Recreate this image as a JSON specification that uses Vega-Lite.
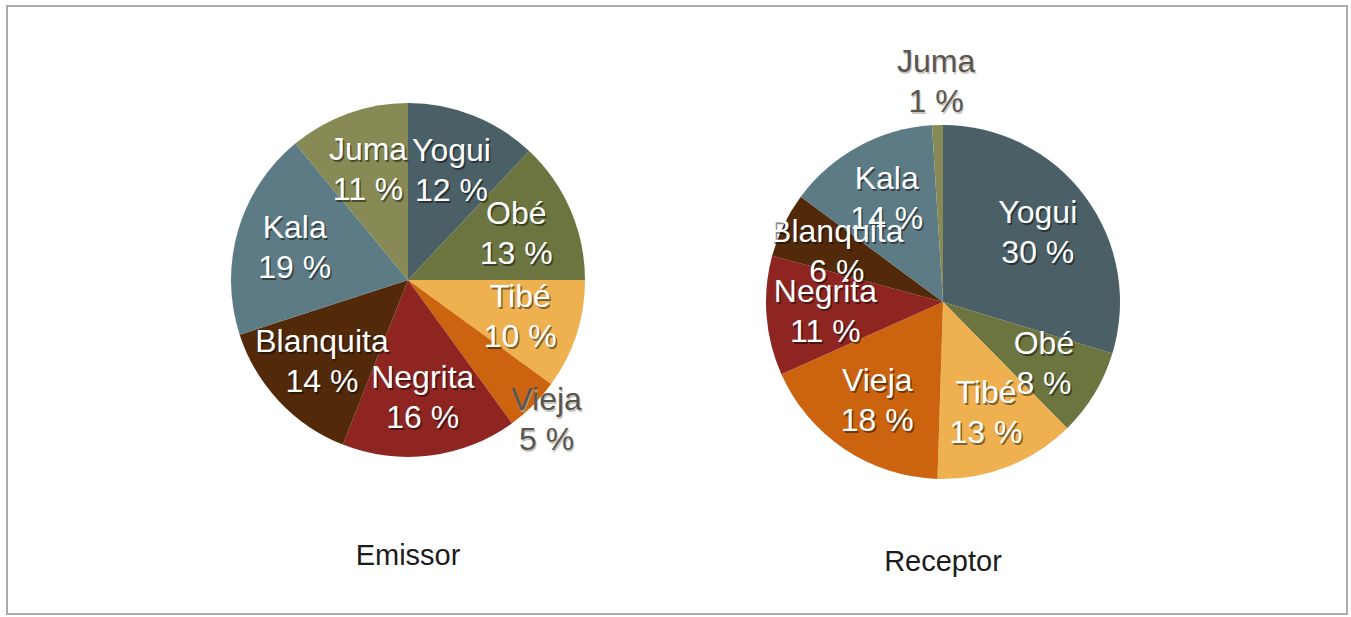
{
  "$schema": "https://vega.github.io/schema/vega-lite/v6.json",
  "width": 1351,
  "height": 617,
  "autosize": {"type": "fit", "contains": "padding"},
  "padding": {"left": 7, "top": 6, "right": 4, "bottom": 3},
  "background": "#ffffff",
  "config": {"view": {"stroke": "#ababab", "strokeWidth": 2}},
  "data": {"values": [
    {"chart": "Emissor", "name": "Yogui", "value": 12, "label": "12 %", "k": 1},
    {"chart": "Emissor", "name": "Obé", "value": 13, "label": "13 %", "k": 2},
    {"chart": "Emissor", "name": "Tibé", "value": 10, "label": "10 %", "k": 3},
    {"chart": "Emissor", "name": "Vieja", "value": 5, "label": "5 %", "k": 4},
    {"chart": "Emissor", "name": "Negrita", "value": 16, "label": "16 %", "k": 5},
    {"chart": "Emissor", "name": "Blanquita", "value": 14, "label": "14 %", "k": 6},
    {"chart": "Emissor", "name": "Kala", "value": 19, "label": "19 %", "k": 7},
    {"chart": "Emissor", "name": "Juma", "value": 11, "label": "11 %", "k": 8},
    {"chart": "Receptor", "name": "Yogui", "value": 30, "label": "30 %", "k": 1},
    {"chart": "Receptor", "name": "Obé", "value": 8, "label": "8 %", "k": 2},
    {"chart": "Receptor", "name": "Tibé", "value": 13, "label": "13 %", "k": 3},
    {"chart": "Receptor", "name": "Vieja", "value": 18, "label": "18 %", "k": 4},
    {"chart": "Receptor", "name": "Negrita", "value": 11, "label": "11 %", "k": 5},
    {"chart": "Receptor", "name": "Blanquita", "value": 6, "label": "6 %", "k": 6},
    {"chart": "Receptor", "name": "Kala", "value": 14, "label": "14 %", "k": 7},
    {"chart": "Receptor", "name": "Juma", "value": 1, "label": "1 %", "k": 8}
  ]},
  "resolve": {"scale": {"theta": "independent", "y": "independent"}},
  "layer": [
    {
      "transform": [{"filter": "datum.chart === 'Emissor'"}],
      "encoding": {
        "x": {"field": "chart", "type": "nominal", "axis": null, "scale": {"type": "point", "padding": 0, "domain": ["Emissor", "Receptor"], "range": [401, 936]}},
        "y": {"field": "chart", "type": "nominal", "axis": null, "scale": {"type": "point", "padding": 0, "domain": ["Emissor", "Receptor"], "range": [274, 296]}},
        "theta": {"field": "value", "type": "quantitative", "stack": true},
        "order": {"field": "k", "type": "quantitative"}
      },
      "layer": [
        {
          "mark": {"type": "arc", "outerRadius": 177},
          "encoding": {
            "color": {"field": "name", "type": "nominal", "legend": null,
              "scale": {"domain": ["Yogui", "Obé", "Tibé", "Vieja", "Negrita", "Blanquita", "Kala", "Juma"],
                        "range": ["#4a6066", "#6c7440", "#efb04f", "#cc640f", "#8e2520", "#522a09", "#5d7b84", "#878a55"]}}
          }
        },
        {"mark": {"type": "text", "radius": 118, "dx": 1.5, "dy": -17, "font": "Liberation Sans", "fontSize": 32, "color": "#000000"},
         "encoding": {"text": {"field": "name"}, "opacity": {"condition": {"test": "datum.value > 5", "value": 0.45}, "value": 0}}},
        {"mark": {"type": "text", "radius": 118, "dx": 1.5, "dy": 23, "font": "Liberation Sans", "fontSize": 32, "color": "#000000"},
         "encoding": {"text": {"field": "label"}, "opacity": {"condition": {"test": "datum.value > 5", "value": 0.45}, "value": 0}}},
        {"mark": {"type": "text", "radius": 118, "dy": -19, "font": "Liberation Sans", "fontSize": 32, "color": "#ffffff"},
         "encoding": {"text": {"field": "name"}, "opacity": {"condition": {"test": "datum.value > 5", "value": 1}, "value": 0}}},
        {"mark": {"type": "text", "radius": 118, "dy": 21, "font": "Liberation Sans", "fontSize": 32, "color": "#ffffff"},
         "encoding": {"text": {"field": "label"}, "opacity": {"condition": {"test": "datum.value > 5", "value": 1}, "value": 0}}},
        {"mark": {"type": "text", "radius": 196, "dx": 1, "dy": -17, "font": "Liberation Sans", "fontSize": 32, "color": "#b5aea6"},
         "encoding": {"text": {"field": "name"}, "opacity": {"condition": {"test": "datum.value <= 5", "value": 0.7}, "value": 0}}},
        {"mark": {"type": "text", "radius": 196, "dx": 1, "dy": 23, "font": "Liberation Sans", "fontSize": 32, "color": "#b5aea6"},
         "encoding": {"text": {"field": "label"}, "opacity": {"condition": {"test": "datum.value <= 5", "value": 0.7}, "value": 0}}},
        {"mark": {"type": "text", "radius": 196, "dy": -19, "font": "Liberation Sans", "fontSize": 32, "color": "#5a554f"},
         "encoding": {"text": {"field": "name"}, "opacity": {"condition": {"test": "datum.value <= 5", "value": 1}, "value": 0}}},
        {"mark": {"type": "text", "radius": 196, "dy": 21, "font": "Liberation Sans", "fontSize": 32, "color": "#5a554f"},
         "encoding": {"text": {"field": "label"}, "opacity": {"condition": {"test": "datum.value <= 5", "value": 1}, "value": 0}}}
      ]
    },
    {
      "transform": [{"filter": "datum.chart === 'Receptor'"}],
      "encoding": {
        "x": {"field": "chart", "type": "nominal", "axis": null, "scale": {"type": "point", "padding": 0, "domain": ["Emissor", "Receptor"], "range": [401, 936]}},
        "y": {"field": "chart", "type": "nominal", "axis": null, "scale": {"type": "point", "padding": 0, "domain": ["Emissor", "Receptor"], "range": [274, 296]}},
        "theta": {"field": "value", "type": "quantitative", "stack": true},
        "order": {"field": "k", "type": "quantitative"}
      },
      "layer": [
        {
          "mark": {"type": "arc", "outerRadius": 177},
          "encoding": {
            "color": {"field": "name", "type": "nominal", "legend": null,
              "scale": {"domain": ["Yogui", "Obé", "Tibé", "Vieja", "Negrita", "Blanquita", "Kala", "Juma"],
                        "range": ["#4a6066", "#6c7440", "#efb04f", "#cc640f", "#8e2520", "#522a09", "#5d7b84", "#878a55"]}}
          }
        },
        {"mark": {"type": "text", "radius": 118, "dx": 1.5, "dy": -17, "font": "Liberation Sans", "fontSize": 32, "color": "#000000"},
         "encoding": {"text": {"field": "name"}, "opacity": {"condition": {"test": "datum.value > 5", "value": 0.45}, "value": 0}}},
        {"mark": {"type": "text", "radius": 118, "dx": 1.5, "dy": 23, "font": "Liberation Sans", "fontSize": 32, "color": "#000000"},
         "encoding": {"text": {"field": "label"}, "opacity": {"condition": {"test": "datum.value > 5", "value": 0.45}, "value": 0}}},
        {"mark": {"type": "text", "radius": 118, "dy": -19, "font": "Liberation Sans", "fontSize": 32, "color": "#ffffff"},
         "encoding": {"text": {"field": "name"}, "opacity": {"condition": {"test": "datum.value > 5", "value": 1}, "value": 0}}},
        {"mark": {"type": "text", "radius": 118, "dy": 21, "font": "Liberation Sans", "fontSize": 32, "color": "#ffffff"},
         "encoding": {"text": {"field": "label"}, "opacity": {"condition": {"test": "datum.value > 5", "value": 1}, "value": 0}}},
        {"mark": {"type": "text", "radius": 221, "dx": 1, "dy": -17, "font": "Liberation Sans", "fontSize": 32, "color": "#b5aea6"},
         "encoding": {"text": {"field": "name"}, "opacity": {"condition": {"test": "datum.value <= 5", "value": 0.7}, "value": 0}}},
        {"mark": {"type": "text", "radius": 221, "dx": 1, "dy": 23, "font": "Liberation Sans", "fontSize": 32, "color": "#b5aea6"},
         "encoding": {"text": {"field": "label"}, "opacity": {"condition": {"test": "datum.value <= 5", "value": 0.7}, "value": 0}}},
        {"mark": {"type": "text", "radius": 221, "dy": -19, "font": "Liberation Sans", "fontSize": 32, "color": "#5a554f"},
         "encoding": {"text": {"field": "name"}, "opacity": {"condition": {"test": "datum.value <= 5", "value": 1}, "value": 0}}},
        {"mark": {"type": "text", "radius": 221, "dy": 21, "font": "Liberation Sans", "fontSize": 32, "color": "#5a554f"},
         "encoding": {"text": {"field": "label"}, "opacity": {"condition": {"test": "datum.value <= 5", "value": 1}, "value": 0}}}
      ]
    },
    {
      "data": {"values": [{"chart": "Emissor"}, {"chart": "Receptor"}]},
      "mark": {"type": "text", "font": "Liberation Sans", "fontSize": 29, "color": "#1c1c1c"},
      "encoding": {
        "x": {"field": "chart", "type": "nominal", "axis": null, "scale": {"type": "point", "padding": 0, "domain": ["Emissor", "Receptor"], "range": [401, 936]}},
        "y": {"field": "chart", "type": "nominal", "axis": null, "scale": {"type": "point", "padding": 0, "domain": ["Emissor", "Receptor"], "range": [550, 556]}},
        "text": {"field": "chart"}
      }
    }
  ]
}
